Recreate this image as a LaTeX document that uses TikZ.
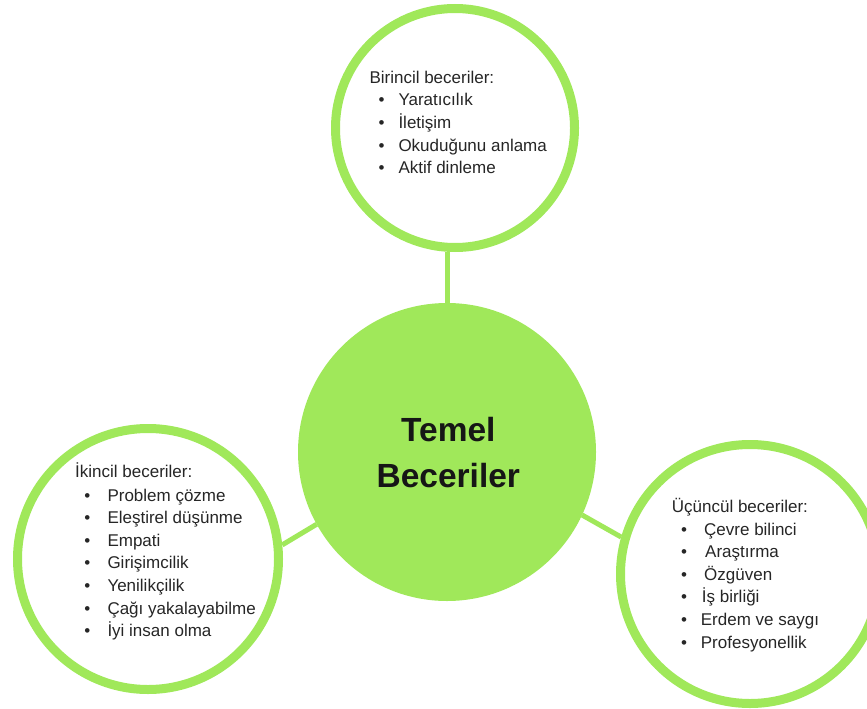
\documentclass[tikz,border=0pt]{standalone}
\usepackage{fontspec}
\setmainfont{Liberation Sans}
\definecolor{gr}{RGB}{160,232,90}
\definecolor{tx}{RGB}{38,38,38}
\definecolor{tt}{RGB}{22,22,22}
\begin{document}
\begin{tikzpicture}[x=1pt,y=-1pt,
  ring/.style={circle, draw=gr, line width=9pt, fill=white, inner sep=0pt},
  hub/.style={circle, fill=gr, inner sep=0pt, outer sep=0pt, minimum size=298pt},
  link/.style={draw=gr, line width=5pt},
  lbl/.style={anchor=base west, inner sep=0pt, font=\fontsize{17}{20}\selectfont, text=tx},
  bul/.style={anchor=base, inner sep=0pt, font=\fontsize{17}{20}\selectfont, text=tx},
  ttl/.style={anchor=base, inner sep=0pt, font=\fontsize{33.5}{40}\selectfont\bfseries, text=tt}]
\useasboundingbox (0,0) rectangle (867,709);
\clip (0,0) rectangle (867,709);
% circles
\node[hub] (c) at (447,452) {};
\node[ring, minimum size=239pt] (t) at (455,128) {};
\node[ring, minimum size=261pt] (l) at (148,559) {};
\node[ring, minimum size=259pt] (r) at (750,574) {};
% connectors
\draw[link] (c.north) -- (c.north |- t.south);
\draw[link] (l.6.8) -- (c.209.8);
\draw[link] (c.-25) -- (r.164.6);
% title
\node[ttl] (c1) at (448.3,441.7) {Temel};
\node[ttl] (c2) at (448.3,487.3) {Beceriler};
% top list
\node[lbl] (th) at (369.3,83.3) {Birincil beceriler:};
\foreach \txt [count=\i] in {Yaratıcılık, İletişim, Okuduğunu anlama, Aktif dinleme}{
  \node[bul] (tb\i) at (381.7,{105.7+22.75*(\i-1)}) {•};
  \node[lbl] (ti\i) at (398.3,{105.7+22.75*(\i-1)}) {\txt};
}
% left list
\node[lbl] (lh) at (75,477.3) {İkincil beceriler:};
\foreach \txt [count=\i] in {Problem çözme, Eleştirel düşünme, Empati, Girişimcilik, Yenilikçilik, Çağı yakalayabilme, İyi insan olma}{
  \node[bul] (lb\i) at (87.3,{501+22.6*(\i-1)}) {•};
  \node[lbl] (li\i) at (107.3,{501+22.6*(\i-1)}) {\txt};
}
% right list
\node[lbl] (rh) at (671.7,512.3) {Üçüncül beceriler:};
\foreach \txt/\xx [count=\i] in {Çevre bilinci/704, Araştırma/705, Özgüven/704, İş birliği/701.7, Erdem ve saygı/700.7, Profesyonellik/700.7}{
  \node[bul] (rb\i) at (684,{535+22.6*(\i-1)}) {•};
  \node[lbl] (ri\i) at (\xx,{535+22.6*(\i-1)}) {\txt};
}
\end{tikzpicture}
\end{document}
